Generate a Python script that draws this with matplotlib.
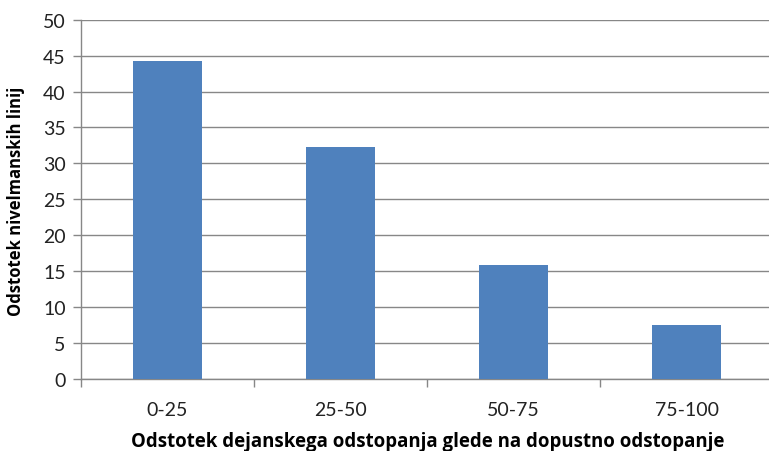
import matplotlib
matplotlib.use("Agg")
import matplotlib.pyplot as plt
import numpy as np

categories = ["0-25", "25-50", "50-75", "75-100"]
values = [44.3, 32.3, 15.8, 7.5]
y_ticks = [0, 5, 10, 15, 20, 25, 30, 35, 40, 45, 50]

plt.rcParams["font.family"] = ["Lato", "DejaVu Sans"]
label_font = ["Open Sans", "DejaVu Sans"]

W, H = 769, 452
fig = plt.figure(figsize=(W / 100, H / 100), dpi=100)
# plot area in pixels: left 81, right 773 (a bit cropped), top 20.7, bottom 380
ax = fig.add_axes([81 / W, 1 - 380 / H, (773 - 81) / W, (380 - 20.7) / H])

x = np.arange(len(categories))
ax.bar(x, values, width=0.4, color="#4F81BD", zorder=3)

ax.set_xlim(-0.5, len(categories) - 0.5)
ax.set_ylim(0, 50)
ax.set_yticks(y_ticks)
ax.yaxis.grid(True, color="#878787", linewidth=1.0, zorder=0)

# category boundary ticks on x axis, labels in the middle
ax.set_xticks(np.arange(len(categories) + 1) - 0.5)
ax.set_xticklabels([])
ax.set_xticks(x, minor=True)
ax.set_xticklabels(categories, minor=True)
ax.tick_params(axis="x", which="major", length=6, width=1, color="#878787", direction="out")
ax.tick_params(axis="x", which="minor", length=0, pad=16, labelsize=14, labelcolor="#222222")
ax.tick_params(axis="y", length=6, width=1, color="#878787", direction="out",
               labelsize=14, labelcolor="#222222", pad=5)

for s in ["top", "right"]:
    ax.spines[s].set_visible(False)
for s in ["left", "bottom"]:
    ax.spines[s].set_color("#878787")
    ax.spines[s].set_linewidth(1.0)

fig.text(428 / W, 1 - 442 / H, "Odstotek dejanskega odstopanja glede na dopustno odstopanje",
         ha="center", va="center", fontsize=13.4, fontweight="bold", family=label_font)
fig.text(16 / W, 1 - 201 / H, "Odstotek nivelmanskih linij", rotation=90,
         ha="center", va="center", fontsize=12, fontweight="bold", family=label_font)

fig.savefig("out.png", dpi=100)
